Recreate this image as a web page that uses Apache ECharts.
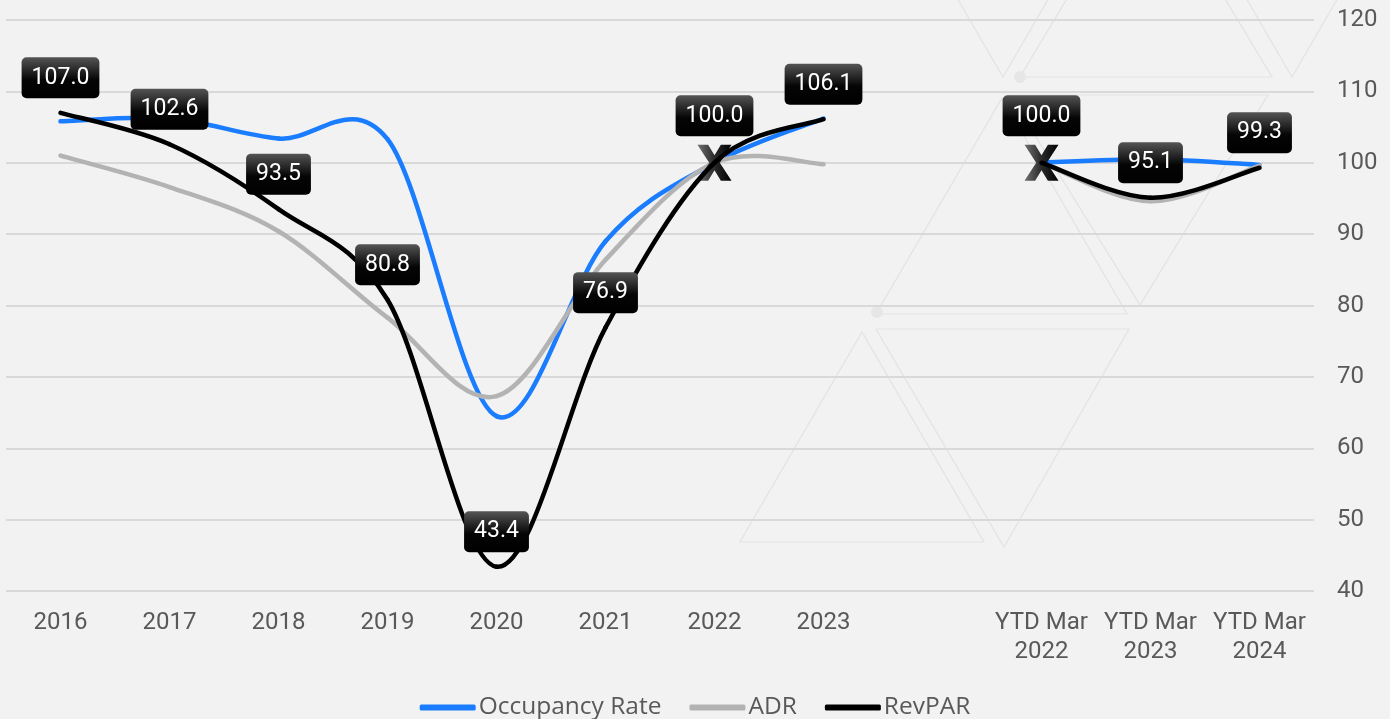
<!DOCTYPE html>
<html>
<head>
<meta charset="utf-8">
<script src="https://cdn.jsdelivr.net/npm/echarts@6/dist/echarts.min.js"></script>
<style>
  html, body { margin: 0; padding: 0; background: #f2f2f2; }
  #chart { width: 1390px; height: 719px; }
</style>
</head>
<body>
<div id="chart"></div>
<script>
// ---- data ----
const categories = ['2016', '2017', '2018', '2019', '2020', '2021', '2022', '2023', '',
  'YTD Mar\n2022', 'YTD Mar\n2023', 'YTD Mar\n2024'];
const occupancy = [105.8, 106.2, 103.4, 103.3, 64.5, 89.0, 100.0, 106.2, null, 100.0, 100.5, 99.7];
const adr       = [101.0, 96.6, 90.4, 78.3, 67.3, 86.4, 100.0, 99.8, null, 100.0, 94.6, 99.6];
const revpar    = [107.0, 102.6, 93.5, 80.8, 43.4, 76.9, 100.0, 106.1, null, 100.0, 95.1, 99.3];
const baseMarks = [null, null, null, null, null, null, 100.0, null, null, 100.0, null, null];
const yTicks = { min: 40, max: 120, interval: 10 };
const seriesNames = ['Occupancy Rate', 'ADR', 'RevPAR'];
const colors = ['#1a7cff', '#b3b3b3', '#000000'];

const FONT = 'Roboto';
const TXT = '#595959';

const chart = echarts.init(document.getElementById('chart'), null, { renderer: 'canvas' });

const xPath = 'path://M0,0 L10,0 L16,10 L22,0 L32,0 L21,17 L32,34 L22,34 L16,24 L10,34 L0,34 L11,17 Z';

// Smoothed line (spreadsheet-style cardinal spline), each segment placed via the axes' coord()
function smoothRenderer(values, color) {
  return function (params, api) {
    const i = params.dataIndex;
    if (values[i] == null || values[i + 1] == null) return null;
    const p = k => api.coord([k, values[k]]);
    const P1 = p(i), P2 = p(i + 1);
    const P0 = (i - 1 >= 0 && values[i - 1] != null) ? p(i - 1) : P1;
    const P3 = (i + 2 < values.length && values[i + 2] != null) ? p(i + 2) : P2;
    const t = 1 / 6;
    return {
      type: 'bezierCurve',
      shape: {
        x1: P1[0], y1: P1[1], x2: P2[0], y2: P2[1],
        cpx1: P1[0] + (P2[0] - P0[0]) * t, cpy1: P1[1] + (P2[1] - P0[1]) * t,
        cpx2: P2[0] - (P3[0] - P1[0]) * t, cpy2: P2[1] - (P3[1] - P1[1]) * t
      },
      style: { fill: 'none', stroke: color, lineWidth: 4.5, lineCap: 'round' }
    };
  };
}
function lineSeries(name, values, color, z) {
  return {
    name: name, type: 'custom', z: z, silent: true,
    data: values.map((v, i) => [i, v]),
    itemStyle: { color: color },
    renderItem: smoothRenderer(values, color)
  };
}

const revparLabelData = revpar.map((v, i) => (baseMarks[i] != null && v != null)
  ? { value: [i, v], label: { distance: 26 } } : (v == null ? null : [i, v]));

function tri(points) {
  return {
    type: 'polygon', silent: true, z: -10,
    shape: { points: points },
    style: { fill: 'none', stroke: '#e3e3e3', lineWidth: 1.2 }
  };
}
function dot(x, y) {
  return { type: 'circle', silent: true, z: -10, shape: { cx: x, cy: y, r: 6 }, style: { fill: '#e6e6e6' } };
}

const option = {
  backgroundColor: '#f2f2f2',
  animation: false,
  textStyle: { fontFamily: FONT },
  graphic: [
    tri([[862, 332], [740, 542], [984, 542]]),
    tri([[876, 329], [1129, 329], [1004, 547]]),
    tri([[876, 314], [1127, 314], [1002, 98]]),
    tri([[1010, 95], [1268, 95], [1140, 305]]),
    tri([[1020, 77], [1272, 77], [1146, -133]]),
    tri([[881, -133], [1125, -133], [1003, 77]]),
    tri([[1170, -133], [1414, -133], [1292, 77]]),
    dot(1020, 77), dot(877, 312)
  ],
  grid: { left: 6, right: 76, top: 20, bottom: 128, containLabel: false },
  legend: {
    data: seriesNames,
    top: 690,
    left: 'center',
    icon: 'roundRect',
    itemWidth: 56,
    itemHeight: 6,
    itemGap: 28,
    textStyle: { color: TXT, fontSize: 24.5, fontFamily: 'Open Sans', padding: [0, 0, 0, -2] }
  },
  xAxis: {
    type: 'category',
    data: categories,
    boundaryGap: true,
    axisLine: { show: false },
    axisTick: { show: false },
    axisLabel: { interval: 0, color: TXT, fontSize: 24, lineHeight: 29, margin: 17, fontFamily: FONT }
  },
  yAxis: {
    type: 'value',
    position: 'right',
    min: yTicks.min, max: yTicks.max, interval: yTicks.interval,
    axisLine: { show: false },
    axisTick: { show: false },
    axisLabel: { color: TXT, fontSize: 24, margin: 23, fontFamily: FONT },
    splitLine: { lineStyle: { color: '#d9d9d9', width: 2 } }
  },
  series: [
    lineSeries(seriesNames[0], occupancy, colors[0], 2),
    lineSeries(seriesNames[1], adr, colors[1], 3),
    {
      name: 'base', type: 'scatter', data: baseMarks, z: 4,
      symbol: xPath, symbolSize: [34, 36],
      itemStyle: {
        opacity: 1,
        color: { type: 'linear', x: 0, y: 0, x2: 1, y2: 0,
          colorStops: [{ offset: 0, color: '#707070' }, { offset: 0.5, color: '#2a2a2a' }, { offset: 1, color: '#000' }] }
      },
      silent: true
    },
    lineSeries(seriesNames[2], revpar, colors[2], 5),
    {
      name: 'RevPAR labels', type: 'scatter', z: 6, silent: true,
      data: revparLabelData,
      symbol: 'circle', symbolSize: 1,
      itemStyle: { color: 'rgba(0,0,0,0)', opacity: 1 },
      label: {
        show: true, position: 'top', distance: 14,
        formatter: p => Number(p.value[1]).toFixed(1),
        color: '#ffffff', fontSize: 23, fontFamily: FONT, lineHeight: 25,
        padding: [8, 10, 8, 10], borderRadius: 5,
        backgroundColor: { type: 'linear', x: 0, y: 0, x2: 0, y2: 1,
          colorStops: [{ offset: 0, color: '#555555' }, { offset: 0.55, color: '#050505' }, { offset: 1, color: '#000000' }] }
      }
    }
  ]
};
chart.setOption(option);
</script>
</body>
</html>
